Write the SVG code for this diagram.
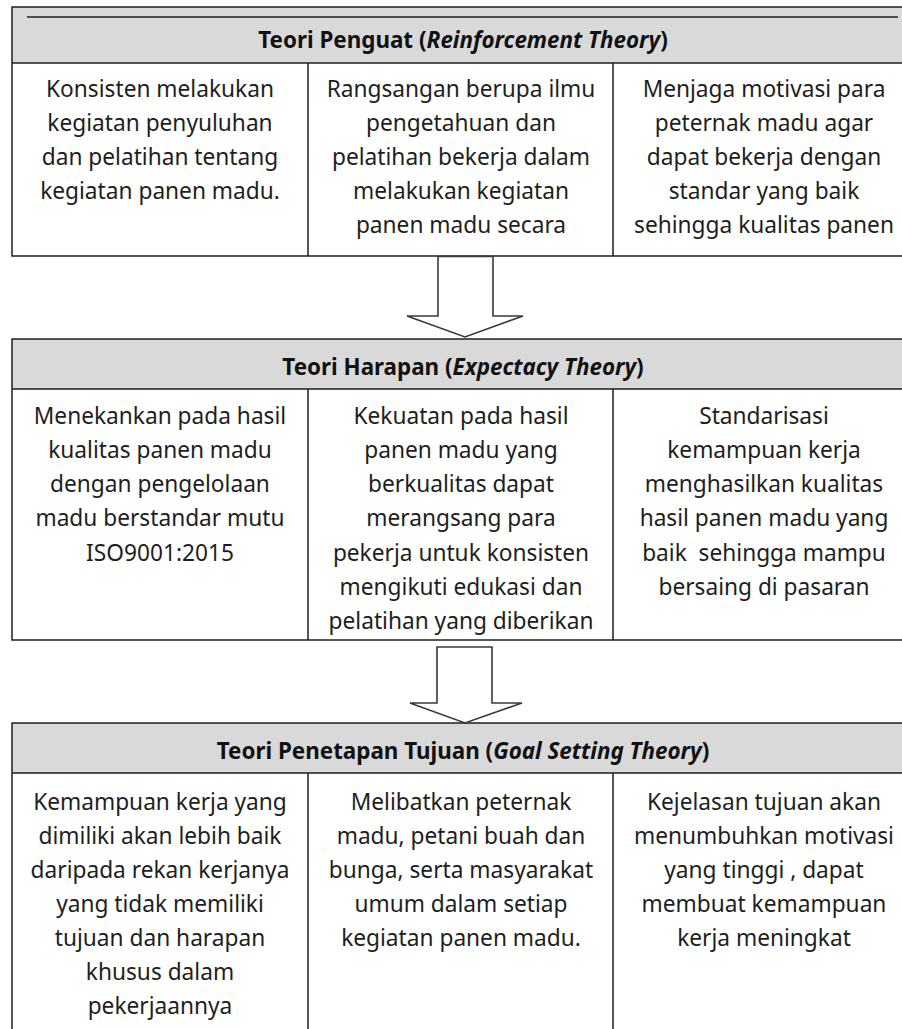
<svg xmlns="http://www.w3.org/2000/svg" width="902" height="1029" viewBox="0 0 902 1029">
<style>
.bg{fill:#ffffff}
.hdr{fill:#d9d9d9}
.ln{stroke:#1e1e1e;stroke-width:1.5;fill:none}
.arrow{fill:#ffffff;stroke:#3a3a3a;stroke-width:1.6;stroke-linejoin:miter}
.h{font-family:"Noto Sans","Open Sans",sans-serif;font-weight:bold;font-size:22.4px;fill:#111;text-anchor:middle}
.h tspan.i{font-style:italic}
.t{font-family:"Noto Sans","Open Sans",sans-serif;font-size:22.7px;fill:#1e1e1e;text-anchor:middle}
</style>
<defs>
<clipPath id="c1"><rect x="12" y="63" width="902" height="193"/></clipPath>
<clipPath id="c2"><rect x="12" y="389" width="902" height="251"/></clipPath>
<clipPath id="c3"><rect x="12" y="773" width="902" height="260"/></clipPath>
</defs>
<rect x="0" y="0" width="902" height="1029" class="bg"/>

<g id="box1">
<rect x="12" y="7" width="902" height="56" class="hdr"/>
<rect x="12" y="7" width="902" height="249" class="ln"/>
<line x1="27" y1="17" x2="898" y2="17" class="ln"/>
<line x1="12" y1="63" x2="914" y2="63" class="ln"/>
<line x1="308" y1="63" x2="308" y2="256" class="ln"/>
<line x1="613" y1="63" x2="613" y2="256" class="ln"/>
<text class="h" x="463" y="48">Teori Penguat (<tspan class="i">Reinforcement Theory</tspan>)</text>
<g clip-path="url(#c1)">
<text class="t" x="160" y="97">Konsisten melakukan</text>
<text class="t" x="160" y="131">kegiatan penyuluhan</text>
<text class="t" x="160" y="165">dan pelatihan tentang</text>
<text class="t" x="160" y="199">kegiatan panen madu.</text>
<text class="t" x="461" y="97">Rangsangan berupa ilmu</text>
<text class="t" x="461" y="131">pengetahuan dan</text>
<text class="t" x="461" y="165">pelatihan bekerja dalam</text>
<text class="t" x="461" y="199">melakukan kegiatan</text>
<text class="t" x="461" y="233">panen madu secara</text>
<text class="t" x="764" y="97">Menjaga motivasi para</text>
<text class="t" x="764" y="131">peternak madu agar</text>
<text class="t" x="764" y="165">dapat bekerja dengan</text>
<text class="t" x="764" y="199">standar yang baik</text>
<text class="t" x="764" y="233">sehingga kualitas panen</text>
</g>
</g>

<g id="box2">
<rect x="12" y="339" width="902" height="50" class="hdr"/>
<rect x="12" y="339" width="902" height="301" class="ln"/>
<line x1="12" y1="389" x2="914" y2="389" class="ln"/>
<line x1="308" y1="389" x2="308" y2="640" class="ln"/>
<line x1="613" y1="389" x2="613" y2="640" class="ln"/>
<text class="h" x="463" y="375">Teori Harapan (<tspan class="i">Expectacy Theory</tspan>)</text>
<g clip-path="url(#c2)">
<text class="t" x="160" y="424">Menekankan pada hasil</text>
<text class="t" x="160" y="458">kualitas panen madu</text>
<text class="t" x="160" y="492">dengan pengelolaan</text>
<text class="t" x="160" y="526">madu berstandar mutu</text>
<text class="t" x="160" y="561">ISO9001:2015</text>
<text class="t" x="461" y="424">Kekuatan pada hasil</text>
<text class="t" x="461" y="458">panen madu yang</text>
<text class="t" x="461" y="492">berkualitas dapat</text>
<text class="t" x="461" y="526">merangsang para</text>
<text class="t" x="461" y="561">pekerja untuk konsisten</text>
<text class="t" x="461" y="595">mengikuti edukasi dan</text>
<text class="t" x="461" y="629">pelatihan yang diberikan</text>
<text class="t" x="764" y="424">Standarisasi</text>
<text class="t" x="764" y="458">kemampuan kerja</text>
<text class="t" x="764" y="492">menghasilkan kualitas</text>
<text class="t" x="764" y="526">hasil panen madu yang</text>
<text class="t" x="764" y="561" xml:space="preserve">baik  sehingga mampu</text>
<text class="t" x="764" y="595">bersaing di pasaran</text>
</g>
</g>

<g id="box3">
<rect x="12" y="723" width="902" height="50" class="hdr"/>
<rect x="12" y="723" width="902" height="320" class="ln"/>
<line x1="12" y1="773" x2="914" y2="773" class="ln"/>
<line x1="308" y1="773" x2="308" y2="1029" class="ln"/>
<line x1="613" y1="773" x2="613" y2="1029" class="ln"/>
<text class="h" x="463" y="759">Teori Penetapan Tujuan (<tspan class="i">Goal Setting Theory</tspan>)</text>
<g clip-path="url(#c3)">
<text class="t" x="160" y="810">Kemampuan kerja yang</text>
<text class="t" x="160" y="844">dimiliki akan lebih baik</text>
<text class="t" x="160" y="878">daripada rekan kerjanya</text>
<text class="t" x="160" y="912">yang tidak memiliki</text>
<text class="t" x="160" y="946">tujuan dan harapan</text>
<text class="t" x="160" y="980">khusus dalam</text>
<text class="t" x="160" y="1014">pekerjaannya</text>
<text class="t" x="461" y="810">Melibatkan peternak</text>
<text class="t" x="461" y="844">madu, petani buah dan</text>
<text class="t" x="461" y="878">bunga, serta masyarakat</text>
<text class="t" x="461" y="912">umum dalam setiap</text>
<text class="t" x="461" y="946">kegiatan panen madu.</text>
<text class="t" x="764" y="810">Kejelasan tujuan akan</text>
<text class="t" x="764" y="844">menumbuhkan motivasi</text>
<text class="t" x="764" y="878">yang tinggi , dapat</text>
<text class="t" x="764" y="912">membuat kemampuan</text>
<text class="t" x="764" y="946">kerja meningkat</text>
</g>
</g>

<g id="connectors">
<path class="arrow" d="M438,256.5 L438,316 L407,316 L465,337 L523,316 L493,316 L493,256.5 Z"/>
<path class="arrow" d="M437,647 L437,703 L410,703 L465,723 L522,703 L492,703 L492,647 Z"/>
</g>
</svg>
